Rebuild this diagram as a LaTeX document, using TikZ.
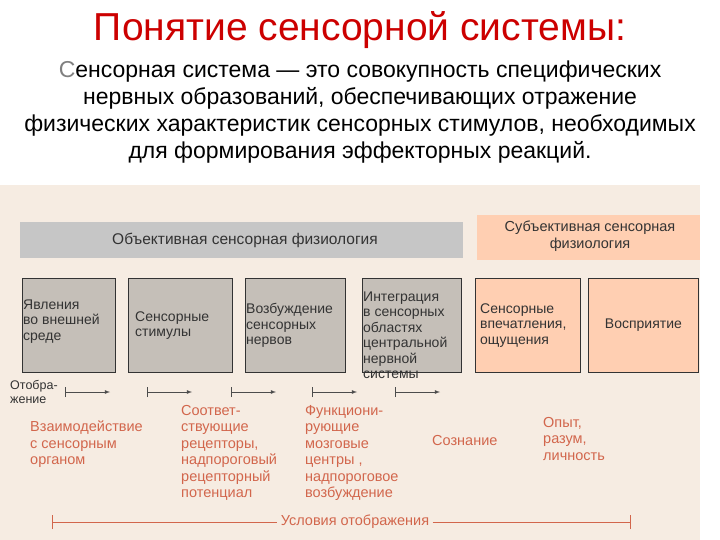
\documentclass[tikz,border=0pt]{standalone}
\usepackage{fontspec}
\setmainfont{Liberation Sans}
\definecolor{sal}{HTML}{D2664C}
\begin{document}
\begin{tikzpicture}[x=1pt,y=-1pt,
  gbox/.style={draw=black!80,line width=0.8pt,fill=gray!45!white!90!brown,anchor=north west,inner sep=0},
  pbox/.style={draw=black!80,line width=0.8pt,fill=red!25!orange!30!white,anchor=north west,inner sep=0},
  btxt/.style={font=\fontsize{14}{15.5}\selectfont,align=left,text=black!80,inner sep=1},
  otxt/.style={font=\fontsize{14.5}{16.5}\selectfont,align=left,text=sal,anchor=north west,inner sep=0},
  arr/.style={-latex,line width=0.8pt,black!70}]
\useasboundingbox (0,0) rectangle (720,540);
\fill[white] (0,0) rectangle (720,540);
\fill[brown!15!white] (0,185) rectangle (700,540);
\node (t) at (360,30) {\fontsize{39}{42}\selectfont\color{red!80!black}Понятие сенсорной системы:};
\node (p) at (360,112) [align=center,font=\fontsize{23}{27}\selectfont]{{\color{gray}С}енсорная система — это совокупность специфических\\нервных образований, обеспечивающих отражение\\физических характеристик сенсорных стимулов, необходимых\\для формирования эффекторных реакций.};
\fill[gray!45] (20,222) rectangle (463,258);
\node (o) at (245,240) [font=\fontsize{15.5}{17}\selectfont,text=black!80]{Объективная сенсорная физиология};
\fill[red!25!orange!30!white] (477,215) rectangle (700,260);
\node (s) at (590,236) [align=center,font=\fontsize{14.5}{17}\selectfont,text=black!80]{Субъективная сенсорная\\физиология};
\node[gbox,minimum width=93,minimum height=94] (b1) at (22,278) {};
\node[gbox,minimum width=104,minimum height=94] (b2) at (128,278) {};
\node[gbox,minimum width=100,minimum height=94] (b3) at (245,278) {};
\node[gbox,minimum width=99,minimum height=94] (b4) at (362,278) {};
\node[pbox,minimum width=105,minimum height=94] (b5) at (475,278) {};
\node[pbox,minimum width=110,minimum height=94] (b6) at (588,278) {};
\node[btxt,anchor=west] (l1) at ([yshift=4]b1.west) {Явления\\во внешней\\среде};
\node[btxt,anchor=west] (l2) at ([xshift=6]b2.west) {Сенсорные\\стимулы};
\node[btxt,anchor=west] (l3) at (b3.west) {Возбуждение\\сенсорных\\нервов};
\node[btxt,anchor=west] (l4) at ([yshift=-10]b4.west) {Интеграция\\в сенсорных\\областях\\центральной\\нервной\\системы};
\node[btxt,anchor=west] (l5) at ([xshift=4]b5.west) {Сенсорные\\впечатления,\\ощущения};
\node[btxt] (l6) at (b6.center) {Восприятие};
\node[btxt,anchor=north west,inner sep=0,font=\fontsize{12.5}{14}\selectfont] (ot) at (10,380) {Отобра-\\жение};
\foreach \i/\a in {1/65,2/147,3/231,4/312,5/395}{
  \coordinate (a\i) at (\a,392); \coordinate (e\i) at (\a+45,392);
  \draw[arr] (a\i) -- (e\i);
  \draw[black!70,line width=0.8pt] ([yshift=-5]a\i) -- ([yshift=5]a\i);}
\node[otxt] (c1) at (30,421) {Взаимодействие\\с сенсорным\\органом};
\node[otxt] (c2) at (181,405) {Соответ-\\ствующие\\рецепторы,\\надпороговый\\рецепторный\\потенциал};
\node[otxt] (c3) at (305,405) {Функциони-\\рующие\\мозговые\\центры ,\\надпороговое\\возбуждение};
\node[otxt] (c4) at (432,435) {Сознание};
\node[otxt] (c5) at (543,417) {Опыт,\\разум,\\личность};
\node (u) at (355,522) [font=\fontsize{14.5}{16}\selectfont,text=sal]{Условия отображения};
\coordinate (u1) at (52,522); \coordinate (u2) at (630,522);
\draw[sal,line width=0.8pt] (u1) -- (u.west) (u.east) -- (u2);
\draw[sal,line width=0.8pt] ([yshift=-7]u1) -- ([yshift=7]u1) ([yshift=-7]u2) -- ([yshift=7]u2);
\end{tikzpicture}
\end{document}
